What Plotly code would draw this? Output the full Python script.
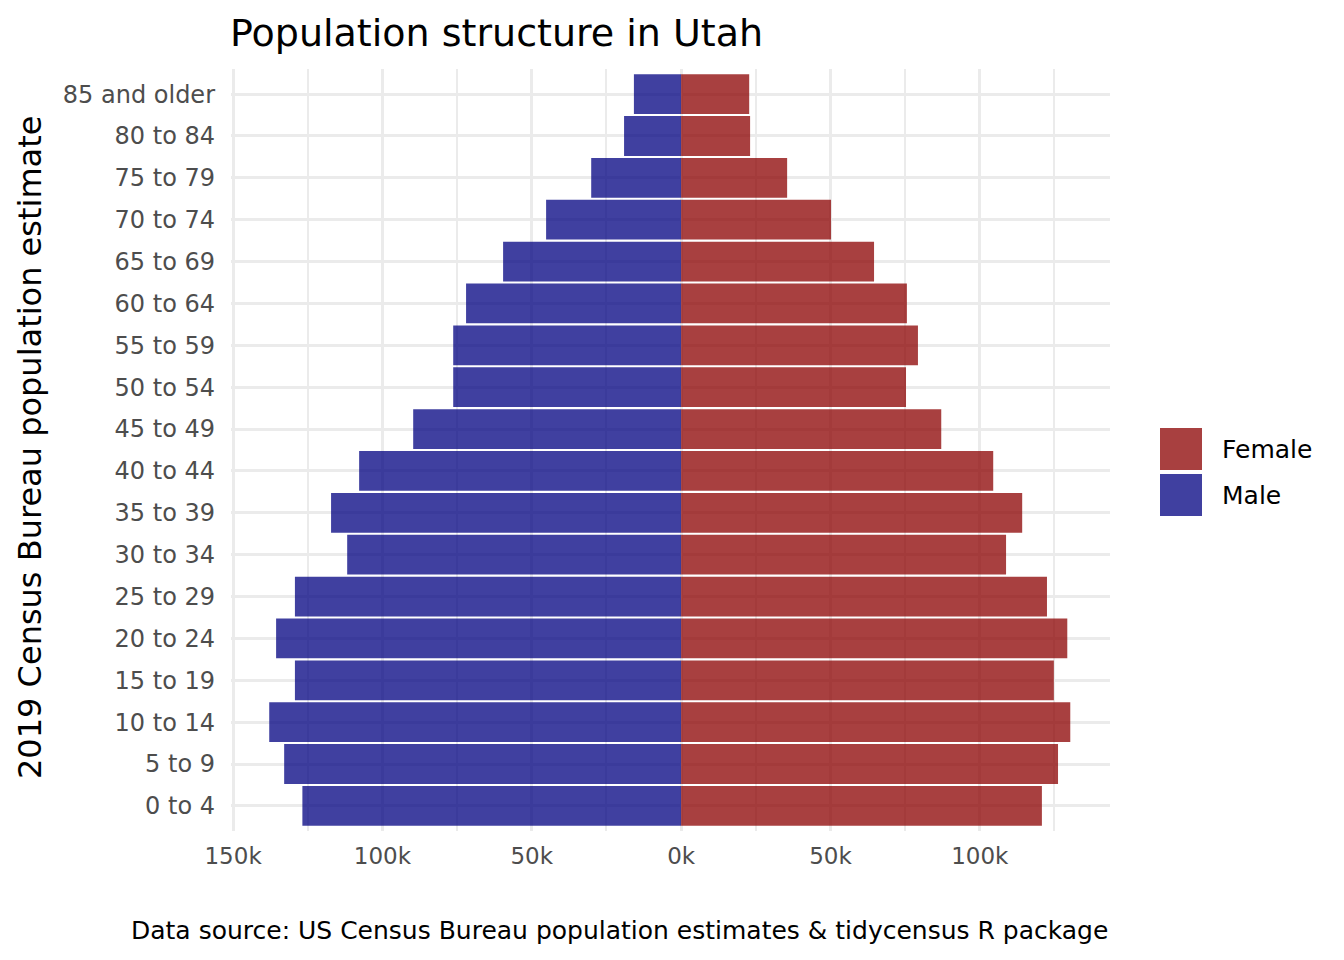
import plotly.graph_objects as go

age_groups = ["0 to 4", "5 to 9", "10 to 14", "15 to 19", "20 to 24", "25 to 29",
              "30 to 34", "35 to 39", "40 to 44", "45 to 49", "50 to 54", "55 to 59",
              "60 to 64", "65 to 69", "70 to 74", "75 to 79", "80 to 84", "85 and older"]
male = [126800, 132900, 137900, 129300, 135600, 129300, 111800, 117200, 107800, 89700,
        76300, 76300, 72000, 59600, 45200, 30100, 19100, 15800]
female = [120800, 126200, 130300, 124800, 129300, 122500, 108800, 114200, 104500, 87100,
          75300, 79300, 75600, 64600, 50200, 35500, 23100, 22800]
tick_vals = [-150000, -100000, -50000, 0, 50000, 100000]
tick_text = ["150k", "100k", "50k", "0k", "50k", "100k"]
minor_vals = [-125000, -75000, -25000, 25000, 75000, 125000]

FONT = "DejaVu Sans"
RED = "rgba(139,0,0,0.75)"
BLUE = "rgba(0,0,128,0.75)"

fig = go.Figure()
fig.add_trace(go.Bar(y=age_groups, x=[-v for v in male], orientation="h", name="Male",
                     marker=dict(color=BLUE, line=dict(width=0)), width=0.95))
fig.add_trace(go.Bar(y=age_groups, x=female, orientation="h", name="Female",
                     marker=dict(color=RED, line=dict(width=0)), width=0.95))

W, H = 1344, 960
L, R, T, B = 231, 234, 69, 129
pw = W - L - R
ph = H - T - B

fig.update_layout(
    width=W, height=H,
    margin=dict(l=L, r=R, t=T, b=B),
    barmode="overlay",
    plot_bgcolor="white", paper_bgcolor="white",
    showlegend=False,
    font=dict(family=FONT, color="#4D4D4D"),
    title=dict(text="Population structure in Utah", x=230 / W, xref="container",
               xanchor="left", y=1 - 33 / H, yref="container", yanchor="middle",
               font=dict(family=FONT, size=38, color="black")),
    xaxis=dict(range=[-150700, 143600], tickmode="array", tickvals=tick_vals,
               ticktext=tick_text, showgrid=True, gridcolor="#EBEBEB", gridwidth=2.5,
               zeroline=False, showline=False, ticks="", ticklabelstandoff=9,
               tickfont=dict(family=FONT, size=23, color="#4D4D4D"),
               minor=dict(tickmode="array", tickvals=minor_vals, showgrid=True,
                          gridcolor="#EBEBEB", gridwidth=1.5, ticks="")),
    yaxis=dict(categoryorder="array", categoryarray=age_groups, range=[-0.6, 17.6],
               showgrid=True, gridcolor="#EBEBEB", gridwidth=2.5, zeroline=False,
               showline=False, ticks="", ticklabelstandoff=15,
               tickfont=dict(family=FONT, size=24, color="#4D4D4D")),
)

# y-axis title
fig.add_annotation(text="2019 Census Bureau population estimate", textangle=-90,
                   xref="paper", yref="paper", x=(30 - L) / pw, y=(H - B - 448) / ph,
                   xanchor="center", yanchor="middle", showarrow=False,
                   font=dict(family=FONT, size=32, color="black"))
# caption
fig.add_annotation(text="Data source: US Census Bureau population estimates & tidycensus R package",
                   xref="paper", yref="paper", x=1, y=(H - B - 930) / ph,
                   xanchor="right", yanchor="middle", showarrow=False,
                   font=dict(family=FONT, size=25, color="black"))

# legend (manual)
def px_x(x):
    return (x - L) / pw

def px_y(y):
    return (H - B - y) / ph

for (label, col, y0) in [("Female", RED, 428), ("Male", BLUE, 474)]:
    fig.add_shape(type="rect", xref="paper", yref="paper",
                  x0=px_x(1160), x1=px_x(1202), y0=px_y(y0), y1=px_y(y0 + 42),
                  fillcolor=col, line=dict(width=0))
    fig.add_annotation(text=label, xref="paper", yref="paper", x=px_x(1220),
                       y=px_y(y0 + 21), xanchor="left", yanchor="middle", showarrow=False,
                       font=dict(family=FONT, size=25, color="black"))

fig.write_html("out.html")
